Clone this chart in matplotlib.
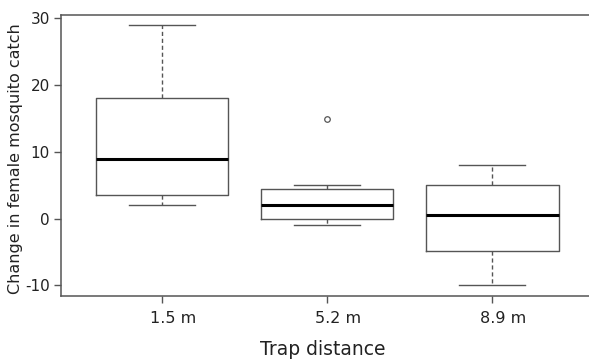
import matplotlib
matplotlib.use("Agg")
import matplotlib.pyplot as plt
import matplotlib.transforms as mtransforms

plt.rcParams["axes.unicode_minus"] = False

# values
labels = ["1.5 m", "5.2 m", "8.9 m"]
whislo = [2.1, -0.9, -10.0]
q1 = [3.5, 0.0, -4.9]
med = [9.0, 2.1, 0.6]
q3 = [18.0, 4.4, 5.1]
whishi = [29.0, 5.1, 8.0]
fliers = [[], [15.0], []]

stats = []
for i in range(len(labels)):
    stats.append(dict(label=labels[i], whislo=whislo[i], q1=q1[i], med=med[i],
                      q3=q3[i], whishi=whishi[i], fliers=fliers[i]))

edge = "#555555"
txt = "#222222"
fig = plt.figure(figsize=(5.89, 3.6), dpi=100)
ax = fig.add_axes([0.1036, 0.178, 0.8964 + 0.01, 0.78])

ax.bxp(stats, positions=[1, 2, 3], widths=0.8, showfliers=True,
       boxprops=dict(color=edge, linewidth=1.0),
       medianprops=dict(color="black", linewidth=2.2),
       whiskerprops=dict(color=edge, linewidth=1.0, linestyle=(0, (3, 2))),
       capprops=dict(color=edge, linewidth=1.0),
       flierprops=dict(marker="o", markersize=4, markerfacecolor="white",
                       markeredgecolor=edge, markeredgewidth=0.9))

ax.set_xlim(0.39, 3.62)
ax.set_ylim(-11.6, 30.5)
ax.set_yticks([-10, 0, 10, 20, 30])
ax.set_xticks([1, 2, 3])
ax.set_xticklabels(labels)

for s in ["left", "bottom", "top", "right"]:
    ax.spines[s].set_color(edge)
    ax.spines[s].set_linewidth(1.1)

ax.tick_params(axis="both", colors=edge, length=5, width=1.0, labelsize=11.5,
               labelcolor=txt)
ax.tick_params(axis="x", pad=6)
ax.tick_params(axis="y", pad=3, labelsize=11)

# x tick labels sit a little right of their ticks in the reference
shift = mtransforms.ScaledTranslation(11 / 100, 0, fig.dpi_scale_trans)
for lab in ax.get_xticklabels():
    lab.set_transform(lab.get_transform() + shift)

ax.set_ylabel("Change in female mosquito catch", fontsize=11.5, color=txt)
ax.yaxis.set_label_coords(-0.071, 0.49)
ax.set_xlabel("Trap distance", fontsize=13.5, color=txt)
ax.xaxis.set_label_coords(0.49, -0.158)

fig.savefig("out.png", dpi=100)
